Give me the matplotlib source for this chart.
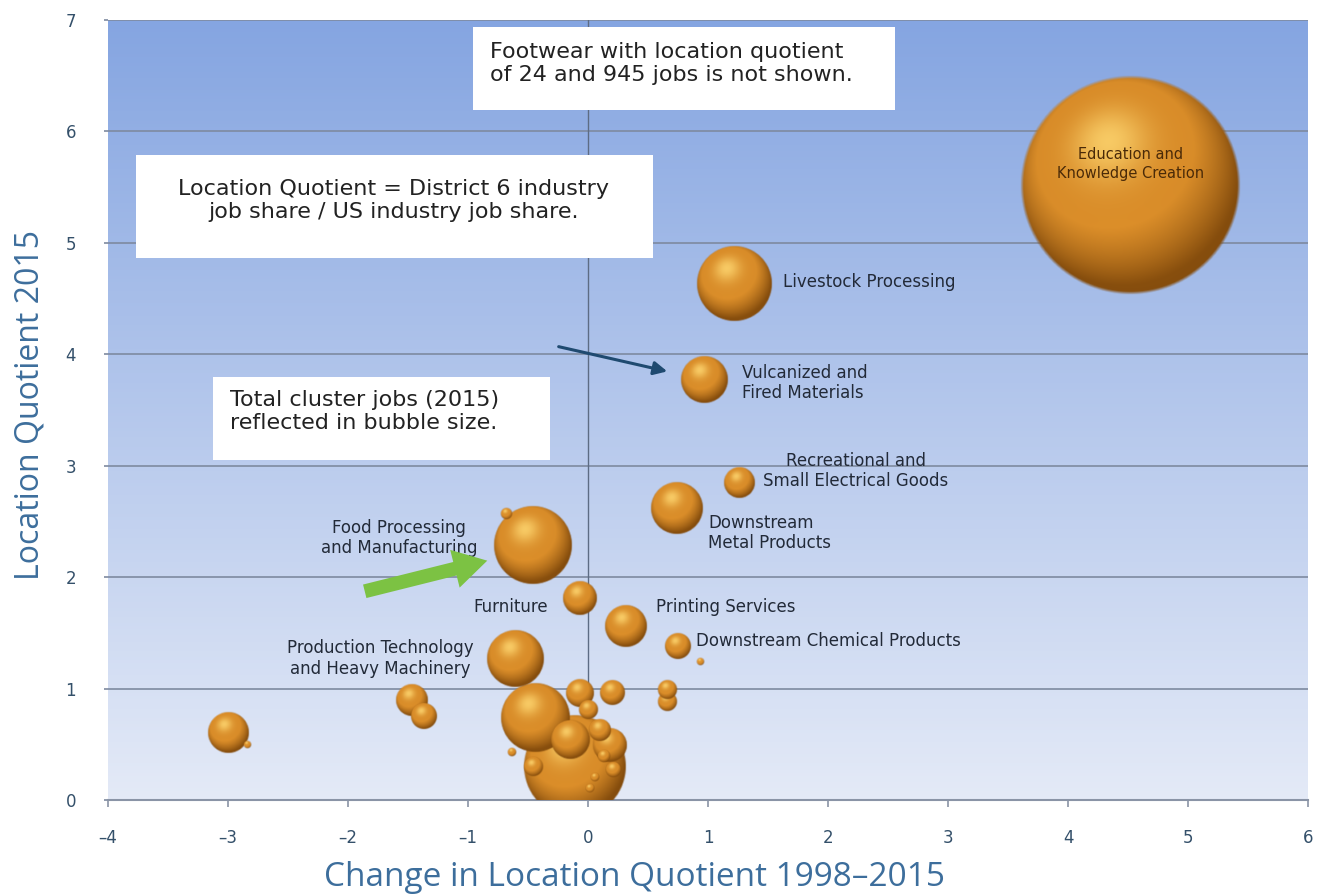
import numpy as np
import matplotlib
matplotlib.use("Agg")
import matplotlib.pyplot as plt
from matplotlib.patches import Rectangle, FancyArrowPatch

# cluster bubbles: change in LQ 1998-2015, LQ 2015, total jobs (thousands)
lq_change = [4.52, 1.22, 0.97, 1.26, 0.74, -0.46, -0.68, -0.07, 0.32, 0.75, 0.93,
             -0.61, -1.47, -1.37, -3.00, -2.84, -0.11, -0.44, -0.07, 0.20, 0.00,
             -0.15, -0.63, -0.46, 0.06, 0.13, 0.02, 0.21, 0.66, 0.66, 0.18, 0.10]
lq_2015 = [5.52, 4.63, 3.77, 2.85, 2.62, 2.29, 2.57, 1.81, 1.56, 1.38, 1.24,
           1.27, 0.90, 0.75, 0.60, 0.49, 0.30, 0.74, 0.96, 0.96, 0.81,
           0.54, 0.43, 0.30, 0.21, 0.39, 0.11, 0.27, 0.99, 0.88, 0.49, 0.63]
jobs = [60.0, 7.2, 2.9, 1.3, 3.6, 7.9, 0.18, 1.6, 2.4, 0.97, 0.08,
        4.2, 1.43, 0.97, 2.2, 0.08, 13.4, 6.1, 1.1, 0.84, 0.5,
        2.0, 0.12, 0.5, 0.12, 0.24, 0.12, 0.32, 0.5, 0.5, 1.6, 0.71]

labels = ["Education and\nKnowledge Creation", "Livestock Processing",
          "Vulcanized and\nFired Materials", "Recreational and\nSmall Electrical Goods",
          "Downstream\nMetal Products", "Food Processing\nand Manufacturing",
          "Furniture", "Printing Services", "Downstream Chemical Products",
          "Production Technology\nand Heavy Machinery"]
label_x = [4.52, 1.625, 1.283, 2.233, 1.0, -1.575, -0.333, 0.567, 0.9, -1.733]
label_y = [5.71, 4.65, 3.74, 2.95, 2.40, 2.35, 1.73, 1.73, 1.43, 1.27]
label_ha = ["center", "left", "left", "center", "left", "center", "right", "left", "left", "center"]

x_ticks = [-4, -3, -2, -1, 0, 1, 2, 3, 4, 5, 6]
y_ticks = [0, 1, 2, 3, 4, 5, 6, 7]

W, H = 1331, 894
fig = plt.figure(figsize=(W / 100, H / 100), dpi=100)
fig.patch.set_facecolor("white")
ax = fig.add_axes([108 / W, 94 / H, 1200 / W, 780 / H])
ax.set_xlim(-4, 6)
ax.set_ylim(0, 7)

# gradient background
top = np.array([133, 165, 225]) / 255
bot = np.array([228, 234, 247]) / 255
t = np.linspace(0, 1, 256)[:, None]
grad = (bot + (top - bot) * t)[:, None, :].repeat(2, axis=1)
ax.imshow(grad, extent=[-4, 6, 0, 7], origin="lower", aspect="auto", zorder=0)

for yv in y_ticks[1:]:
    ax.axhline(yv, color="#7e8aa0", lw=1.2, zorder=1)
ax.axvline(0, color="#5d6c84", lw=1.0, zorder=1)

for s in ["top", "right", "left"]:
    ax.spines[s].set_visible(False)
ax.spines["bottom"].set_color("#8a94a6")
ax.spines["bottom"].set_linewidth(1.5)
ax.set_xticks(x_ticks)
ax.set_yticks(y_ticks)
ax.set_xticklabels(["\u2013" + str(-v) if v < 0 else str(v) for v in x_ticks])
ax.tick_params(axis="x", direction="out", length=5, width=1.2, color="#8a94a6",
               pad=16, labelsize=12, labelcolor="#34506a")
ax.tick_params(axis="y", direction="out", length=3, width=1.2, color="#7e8aa0",
               pad=20, labelsize=12, labelcolor="#34506a")


def sphere(rpx):
    n = max(int(rpx * 2.5), 40)
    u = np.linspace(-1, 1, n)
    X, Y = np.meshgrid(u, u)
    d = np.sqrt(X ** 2 + Y ** 2)
    z = np.sqrt(np.clip(1 - d ** 2, 0, 1))
    L = np.array([-0.2, 0.4, 0.9])
    L = L / np.linalg.norm(L)
    diff = np.clip(X * L[0] + Y * L[1] + z * L[2], 0, 1)
    rim = np.array([0.52, 0.30, 0.05])
    body = np.array([0.85, 0.55, 0.16])
    hi = np.array([1.0, 0.85, 0.45])
    k = np.clip(diff * 1.45, 0, 1)[..., None] ** 1.3
    rgb = rim + (body - rim) * k
    spec = diff[..., None] ** 16 * 0.8
    rgb = rgb + (hi - body) * spec
    # faint reflected light at bottom
    refl = (np.clip(-Y, 0, 1) * z)[..., None] ** 2 * 0.10
    rgb = np.clip(rgb + refl * np.array([0.9, 0.6, 0.2]), 0, 1)
    edge = max(1.4 / rpx, 0.03)
    a = np.clip((1 - d) / edge, 0, 1)
    return np.dstack([rgb, a])


px_x = ax.transData.transform((1, 0))[0] - ax.transData.transform((0, 0))[0]
px_y = ax.transData.transform((0, 1))[1] - ax.transData.transform((0, 0))[1]
order = np.argsort(jobs)[::-1]
for z, i in enumerate(order):
    r = 110 * np.sqrt(jobs[i] / 60.0)
    hw, hh = r / px_x, r / px_y
    x0, y0 = lq_change[i], lq_2015[i]
    ax.imshow(sphere(r), extent=[x0 - hw, x0 + hw, y0 - hh, y0 + hh],
              origin="lower", aspect="auto", interpolation="bilinear", zorder=3 + z * 0.01)

for lab, lx, ly, ha in zip(labels, label_x, label_y, label_ha):
    if lab.startswith("Education"):
        ax.text(lx, ly, lab, ha=ha, va="center", fontsize=10.5, color="#4a2a08",
                linespacing=1.3, zorder=6)
    else:
        ax.text(lx, ly, lab, ha=ha, va="center", fontsize=12, color="#222a38",
                linespacing=1.15, zorder=6)

# text boxes
boxes = [(-0.958, 6.19, 3.516, 0.75), (-3.767, 4.864, 4.309, 0.924), (-3.125, 3.051, 2.808, 0.745)]
for bx, by, bw, bh in boxes:
    ax.add_patch(Rectangle((bx, by), bw, bh, facecolor="white", edgecolor="none", zorder=5))
box_kw = dict(va="center", fontsize=16, color="#222222", linespacing=1.2, zorder=6)
ax.text(-0.817, 6.61, "Footwear with location quotient\nof 24 and 945 jobs is not shown.",
        ha="left", **box_kw)
ax.text(-1.617, 5.38, "Location Quotient = District 6 industry\njob share / US industry job share.",
        ha="center", **box_kw)
ax.text(-2.983, 3.49, "Total cluster jobs (2015)\nreflected in bubble size.",
        ha="left", **box_kw)

# arrows
ax.add_patch(FancyArrowPatch((-0.267, 4.074), (0.683, 3.841), arrowstyle="-|>,head_length=8,head_width=4",
                             color="#1f4a70", lw=2.2, zorder=6, mutation_scale=1))
ax.add_patch(FancyArrowPatch((-1.883, 1.867), (-0.817, 2.154),
                             arrowstyle="simple,head_length=24,head_width=28,tail_width=10",
                             color="#7cc243", lw=0, zorder=6, mutation_scale=1))

fig.text(634 / W, 1 - 878 / H, "Change in Location Quotient 1998\u20132015", ha="center", va="center",
         fontsize=24, color="#3d6e9c", family="Open Sans")
fig.text(30 / W, 1 - 405 / H, "Location Quotient 2015", ha="center", va="center", rotation=90,
         fontsize=23, color="#3d6e9c", family="Open Sans")

fig.savefig("out.png", dpi=100, facecolor="white")
